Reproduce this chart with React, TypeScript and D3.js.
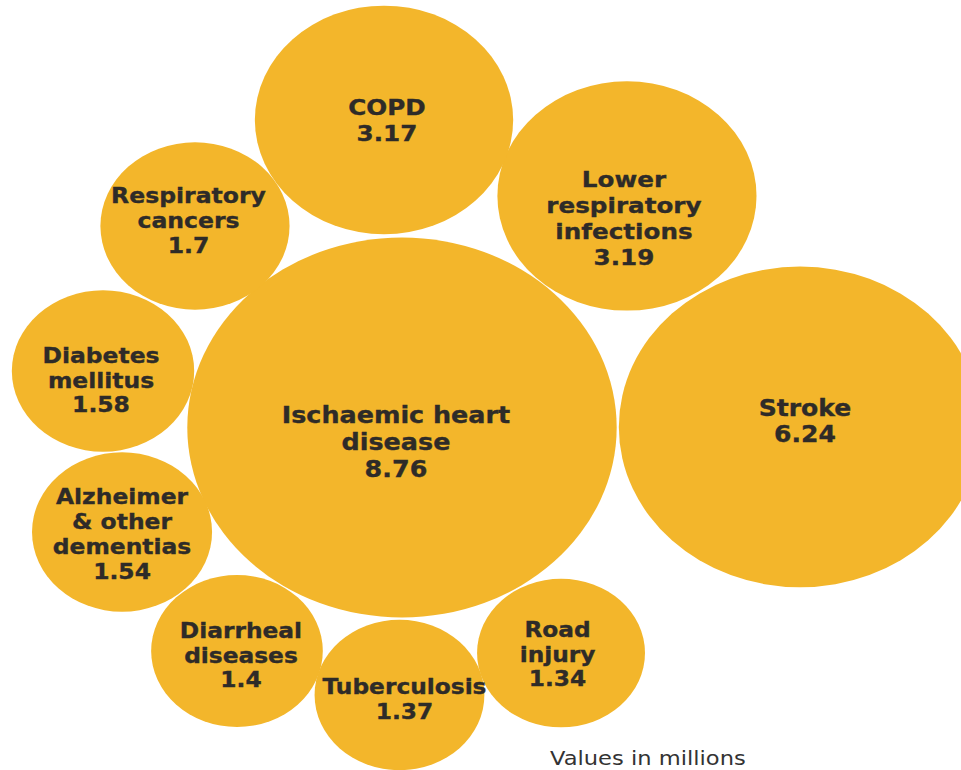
import React from "react";
import * as d3 from "d3";

// Data
const causes: string[][] = [
  ["Ischaemic heart", "disease"],
  ["Stroke"],
  ["Lower", "respiratory", "infections"],
  ["COPD"],
  ["Respiratory", "cancers"],
  ["Diabetes", "mellitus"],
  ["Alzheimer", "& other", "dementias"],
  ["Diarrheal", "diseases"],
  ["Tuberculosis"],
  ["Road", "injury"],
];
const deaths: number[] = [8.76, 6.24, 3.19, 3.17, 1.7, 1.58, 1.54, 1.4, 1.37, 1.34];
// layout position of each bubble, in percent of the canvas
const layoutX: number[] = [41.83, 83.25, 65.24, 39.96, 20.29, 10.72, 12.7, 24.66, 41.57, 58.38];
const layoutY: number[] = [55.52, 55.45, 25.45, 15.58, 29.35, 48.18, 69.09, 84.55, 90.26, 84.81];
// label nudges (px)
const labelDx: number[] = [-6, 5, -3, 3, -6.5, -2, 0, 4, 5, -3.5];
const labelDy: number[] = [14.5, -6, 22, 0, -6, 9, 2, 4, 4, 1];
const note = "Values in millions";

const W = 961;
const H = 770;
const SX = 1.13; // horizontal stretch of the picture
const FILL = "#F3B62B";
const INK = "#2e2b28";

export default function App() {
  const x = d3.scaleLinear().domain([0, 100]).range([0, W / SX]);
  const y = d3.scaleLinear().domain([0, 100]).range([0, H]);
  const r = d3.scaleSqrt().domain([0, 8.76]).range([0, 190]);
  const fs = d3.scaleLinear().domain([1.34, 3.17, 8.76]).range([20.6, 21.8, 22.5]).clamp(true);

  return (
    <svg
      width={W}
      height={H}
      style={{ position: "absolute", left: 0, top: 0, background: "#fff" }}
    >
      <g transform={`scale(${SX},1)`}>
        {deaths.map((v, i) => (
          <circle key={"c" + i} cx={x(layoutX[i])} cy={y(layoutY[i])} r={r(v)} fill={FILL} />
        ))}
        {deaths.map((v, i) => {
          const lines = [...causes[i], String(v)];
          const size = fs(v);
          const lh = size * 1.2;
          const cap = 0.73 * size;
          const cx = x(layoutX[i]) + labelDx[i] / SX;
          const cy = y(layoutY[i]) + labelDy[i];
          const base = cy - ((lines.length - 1) * lh) / 2 + cap / 2;
          return (
            <text
              key={"t" + i}
              textAnchor="middle"
              fontFamily="DejaVu Sans, Verdana, sans-serif"
              fontWeight="bold"
              fontSize={size}
              fill={INK}
              stroke={INK}
              strokeWidth={0.35}
            >
              {lines.map((l, j) => (
                <tspan key={j} x={cx} y={base + j * lh}>
                  {l}
                </tspan>
              ))}
            </text>
          );
        })}
        <text
          x={550 / SX}
          y={765}
          fontFamily="DejaVu Sans, Verdana, sans-serif"
          fontSize={20}
          fill="#333"
        >
          {note}
        </text>
      </g>
    </svg>
  );
}
